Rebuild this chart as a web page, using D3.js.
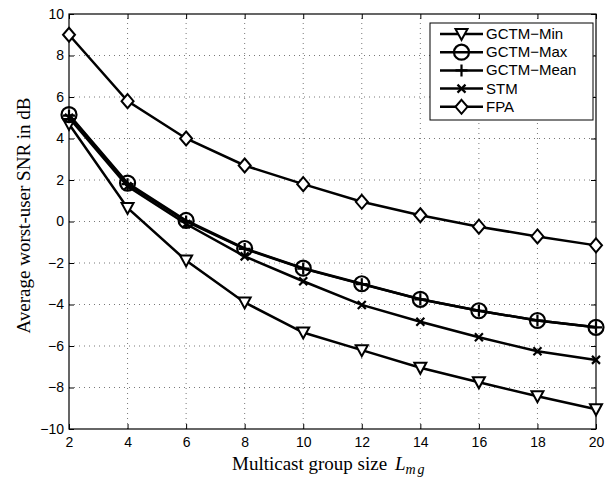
<!DOCTYPE html>
<html>
<head>
<meta charset="utf-8">
<script src="https://cdn.jsdelivr.net/npm/d3@7"></script>
<style>
  body { margin: 0; background: #fff; }
  .tick text { font-family: "Liberation Sans", Arial, sans-serif; font-size: 14px; fill: #000; }
</style>
</head>
<body>
<svg id="chart" width="610" height="478"></svg>
<script>
// group sizes on the x axis
const groupSizes = [2, 4, 6, 8, 10, 12, 14, 16, 18, 20];

// average worst-user SNR (dB)
const gctmMin  = [4.7, 0.65, -1.88, -3.9, -5.35, -6.2, -7.05, -7.75, -8.42, -9.05];
const gctmMax  = [5.15, 1.85, 0.05, -1.3, -2.25, -3.0, -3.75, -4.3, -4.77, -5.1];
const gctmMean = [5.1, 1.8, 0.0, -1.32, -2.27, -3.02, -3.75, -4.3, -4.77, -5.1];
const stm      = [5.0, 1.7, -0.12, -1.68, -2.88, -4.02, -4.83, -5.58, -6.25, -6.67];
const fpa      = [9.0, 5.8, 4.0, 2.7, 1.8, 0.95, 0.3, -0.25, -0.72, -1.15];

const xTicks = [2, 4, 6, 8, 10, 12, 14, 16, 18, 20];
const yTicks = [-10, -8, -6, -4, -2, 0, 2, 4, 6, 8, 10];

const series = [
  { name: "GCTM\u2212Min", values: gctmMin, marker: "triDown" },
  { name: "GCTM\u2212Max", values: gctmMax, marker: "circle" },
  { name: "GCTM\u2212Mean", values: gctmMean, marker: "plus" },
  { name: "STM", values: stm, marker: "cross" },
  { name: "FPA", values: fpa, marker: "diamond" }
];

const margin = { left: 69, top: 14, right: 14, bottom: 49 };
const width = 610, height = 478;
const svg = d3.select("#chart");

const x = d3.scaleLinear().domain([2, 20]).range([margin.left, width - margin.right]);
const y = d3.scaleLinear().domain([-10, 10]).range([height - margin.bottom, margin.top]);

// grid lines
const grid = svg.append("g").attr("stroke", "#555").attr("stroke-width", 0.8)
  .attr("stroke-dasharray", "1,4");
xTicks.slice(1, -1).forEach(t => {
  grid.append("line").attr("x1", x(t)).attr("x2", x(t)).attr("y1", y(-10)).attr("y2", y(10));
});
yTicks.slice(1, -1).forEach(t => {
  grid.append("line").attr("x1", x(2)).attr("x2", x(20)).attr("y1", y(t)).attr("y2", y(t));
});

// axes with inward ticks
const fmt = d => d < 0 ? "\u2212" + Math.abs(d) : d;
svg.append("g").attr("transform", `translate(0,${y(-10)})`)
  .call(d3.axisBottom(x).tickValues(xTicks).tickSizeInner(-5).tickSizeOuter(0).tickPadding(8).tickFormat(fmt))
  .call(g => g.select(".domain").remove());
svg.append("g").attr("transform", `translate(0,${y(10)})`)
  .call(d3.axisTop(x).tickValues(xTicks).tickSizeInner(-5).tickSizeOuter(0).tickFormat(""))
  .call(g => g.select(".domain").remove());
svg.append("g").attr("transform", `translate(${x(2)},0)`)
  .call(d3.axisLeft(y).tickValues(yTicks).tickSizeInner(-5).tickSizeOuter(0).tickPadding(5).tickFormat(fmt))
  .call(g => g.select(".domain").remove());
svg.append("g").attr("transform", `translate(${x(20)},0)`)
  .call(d3.axisRight(y).tickValues(yTicks).tickSizeInner(-5).tickSizeOuter(0).tickFormat(""))
  .call(g => g.select(".domain").remove());
svg.selectAll(".tick line").attr("stroke", "#000");

// frame
svg.append("rect").attr("x", x(2)).attr("y", y(10))
  .attr("width", x(20) - x(2)).attr("height", y(-10) - y(10))
  .attr("fill", "none").attr("stroke", "#000").attr("stroke-width", 1.2);

// marker drawing
function drawMarker(g, type, cx, cy) {
  let m;
  if (type === "triDown") {
    m = g.append("path").attr("d", `M${cx - 6},${cy - 5}L${cx + 6},${cy - 5}L${cx},${cy + 6}Z`);
  } else if (type === "circle") {
    m = g.append("circle").attr("cx", cx).attr("cy", cy).attr("r", 7.5);
  } else if (type === "plus") {
    m = g.append("path").attr("d", `M${cx - 6},${cy}H${cx + 6}M${cx},${cy - 6}V${cy + 6}`);
  } else if (type === "cross") {
    m = g.append("path").attr("d", `M${cx - 4},${cy - 4}L${cx + 4},${cy + 4}M${cx - 4},${cy + 4}L${cx + 4},${cy - 4}`);
  } else if (type === "diamond") {
    m = g.append("path").attr("d", `M${cx},${cy - 7}L${cx + 6},${cy}L${cx},${cy + 7}L${cx - 6},${cy}Z`);
  }
  m.attr("fill", "#fff").attr("stroke", "#000").attr("stroke-width", 2);
  if (type === "plus" || type === "cross" || type === "circle") m.attr("fill", "none").attr("stroke-width", 2.2);
}

const line = d3.line().x((d, i) => x(groupSizes[i])).y(d => y(d));
series.forEach(s => {
  const g = svg.append("g");
  g.append("path").datum(s.values).attr("d", line)
    .attr("fill", "none").attr("stroke", "#000").attr("stroke-width", 2.5);
  s.values.forEach((v, i) => drawMarker(g, s.marker, x(groupSizes[i]), y(v)));
});

// legend
const lg = svg.append("g");
lg.append("rect").attr("x", 430).attr("y", 23).attr("width", 163).attr("height", 97)
  .attr("fill", "#fff").attr("stroke", "#000").attr("stroke-width", 1);
series.forEach((s, i) => {
  const ly = 34 + i * 18.2;
  lg.append("line").attr("x1", 440).attr("x2", 483).attr("y1", ly).attr("y2", ly)
    .attr("stroke", "#000").attr("stroke-width", 2.5);
  drawMarker(lg, s.marker, 461.5, ly);
  lg.append("text").attr("x", 486).attr("y", ly + 5)
    .attr("font-family", "Liberation Sans, Arial, sans-serif").attr("font-size", 15)
    .text(s.name);
});

// axis labels
const xl = svg.append("text").attr("x", 232).attr("y", 470)
  .attr("font-family", "Liberation Serif, Times New Roman, serif")
  .attr("font-size", 19);
xl.append("tspan").text("Multicast group size ");
xl.append("tspan").attr("font-style", "italic").attr("dx", 3).text("L");
xl.append("tspan").attr("font-style", "italic").attr("font-size", 14).attr("dy", 4)
  .attr("letter-spacing", 2).text("mg");

svg.append("text")
  .attr("transform", `translate(30,${(y(-10) + y(10)) / 2 - 6}) rotate(-90)`)
  .attr("text-anchor", "middle").attr("font-family", "Liberation Serif, Times New Roman, serif")
  .attr("font-size", 19).text("Average worst-user SNR in dB");
</script>
</body>
</html>
